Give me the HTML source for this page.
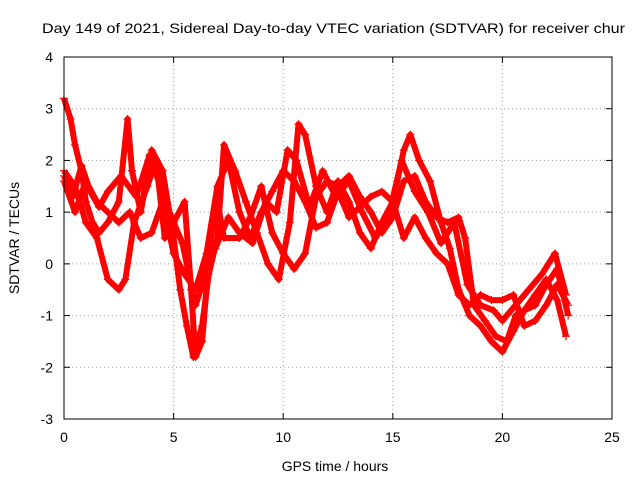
<!DOCTYPE html>
<html><head><meta charset="utf-8"><style>
html,body{margin:0;padding:0;background:#fff}
svg{display:block;font-family:"Liberation Sans",sans-serif}
</style></head><body>
<svg id="chart" width="640" height="480" viewBox="0 0 640 480">
<rect width="640" height="480" fill="#fff"/>
<text x="42" y="33" font-size="14" textLength="583" lengthAdjust="spacingAndGlyphs" fill="#000">Day 149 of 2021, Sidereal Day-to-day VTEC variation (SDTVAR) for receiver chur</text>
<g id="grid"></g>
<g id="axes"></g>
<g id="series"></g>
<rect x="64" y="57" width="548" height="362" fill="none" stroke="#000" stroke-width="1"/>
<text x="335" y="471" font-size="14" text-anchor="middle">GPS time / hours</text>
<text transform="translate(19,238) rotate(-90)" font-size="14" text-anchor="middle">SDTVAR / TECUs</text>
</svg>
<script>
const xTicks=[0,5,10,15,20,25];
const yTicks=[-3,-2,-1,0,1,2,3,4];
const timesA=[0,0.3,0.5,0.8,1,1.3,1.6,2,2.5,2.9,3.1,3.5,4,4.5,5,5.3,5.6,5.9,6.3,6.6,7,7.3,7.8,8.3,8.8,9.3,9.8,10.3,10.7,11,11.5,12,12.5,13,13.5,14,14.5,15,15.5,15.8,16.2,16.7,17.2,17.6,18,18.5,19,19.5,20,20.5,21,21.5,22,22.5,22.9];
const valuesA=[3.2,2.8,2.3,1.8,1.2,0.8,0.6,0.8,1.2,2.8,1.8,1.0,2.2,1.8,0.5,-0.5,-1.2,-1.8,-1.2,-0.2,0.5,2.3,1.8,1.2,0.6,0.0,-0.3,0.8,2.7,2.5,1.5,1.0,1.6,1.2,0.6,0.3,0.8,1.2,2.2,2.5,2.0,1.6,0.8,0.3,-0.5,-1.0,-1.2,-1.5,-1.7,-1.3,-0.9,-0.6,-0.3,-0.7,-1.4];
const timesB=[0,0.5,1,1.5,2,2.5,2.8,3.2,3.8,4.2,4.6,5,5.5,5.8,6,6.3,6.7,7,7.3,8,8.5,9,9.5,10,10.5,11,11.5,12,12.5,13,13.5,14,14.5,15,15.5,16,16.5,17,17.5,18,18.3,18.7,19.2,19.7,20.2,20.6,21,21.5,22,22.5,23];
const valuesB=[1.8,1.5,0.8,0.5,-0.3,-0.5,-0.3,0.8,1.5,2.0,0.5,0.8,1.2,-0.5,-1.8,-1.5,0.5,1.2,0.5,0.5,0.9,1.5,0.6,0.2,-0.1,0.2,1.3,1.6,1.5,1.7,1.3,1.0,0.6,0.9,1.6,1.7,1.2,0.9,0.8,0.9,0.5,-0.8,-1.1,-1.4,-1.5,-1.0,-0.9,-0.8,-0.4,-0.1,-1.0];
const timesC=[0,0.5,1,1.5,2,2.5,3,3.5,4,4.5,5,5.5,6,6.5,7,7.5,8,8.5,9,9.5,10,10.5,11,11.5,12,12.5,13,13.5,14,14.5,15,15.5,16,16.5,17,17.5,18,18.5,19,19.5,20,20.5,21,21.5,22,22.5,23];
const valuesC=[1.6,1.0,1.6,1.2,1.0,0.8,1.0,0.5,0.6,1.2,0.2,-0.2,-0.5,0.2,1.5,2.0,1.0,0.5,1.0,1.4,1.8,1.6,1.2,0.7,0.8,1.4,0.9,1.1,1.3,1.4,1.2,0.5,0.9,0.5,0.2,0.0,-0.6,-0.8,-0.6,-0.7,-0.7,-0.6,-1.2,-1.1,-0.8,-0.4,-0.8];
const timesD=[0,0.4,0.8,1.2,1.6,2,2.6,3.3,3.9,4.4,4.9,5.4,6,6.4,6.9,7.5,8,8.6,9.2,9.7,10.2,10.6,11.2,11.8,12.4,13,13.6,14.2,14.8,15.4,16,16.6,17.2,17.8,18.4,19,19.6,20,20.6,21.2,21.8,22.4,22.9];
const valuesD=[1.7,1.3,1.9,1.4,1.1,1.4,1.7,1.3,2.1,1.5,0.9,0.4,-0.8,-0.3,0.3,0.9,0.6,0.4,1.2,1.0,2.2,2.0,1.1,1.8,1.3,1.6,1.0,0.5,0.9,2.0,1.4,1.0,0.4,0.8,-0.4,-0.8,-0.9,-1.1,-0.8,-0.5,-0.2,0.2,-0.6];
const NS="http://www.w3.org/2000/svg";
const X0=64,X1=612,Y0=419,Y1=57;
function sx(t){return X0+(t-0)/(25-0)*(X1-X0);}
function sy(v){return Y0-(v-(-3))/(4-(-3))*(Y0-Y1);}
function mk(tag,attrs,parent){const e=document.createElementNS(NS,tag);for(const k in attrs)e.setAttribute(k,attrs[k]);parent.appendChild(e);return e;}
const grid=document.getElementById('grid'),axes=document.getElementById('axes'),ser=document.getElementById('series');
xTicks.forEach(t=>{const x=sx(t);
 if(t>0&&t<25){const g=mk('line',{x1:x,x2:x,y1:Y1,y2:Y0,stroke:'#a0a0a0','stroke-dasharray':'1,3'},grid);
 
 }
 mk('line',{x1:x,x2:x,y1:Y0,y2:Y0-6,stroke:'#000'},axes);
 mk('line',{x1:x,x2:x,y1:Y1,y2:Y1+6,stroke:'#000'},axes);
 const l=mk('text',{x:x,y:442,'font-size':14,'text-anchor':'middle'},axes);l.textContent=t;
 
 
});
yTicks.forEach(v=>{const y=sy(v);
 if(v>-3&&v<4){const g=mk('line',{x1:X0,x2:X1,y1:y,y2:y,stroke:'#a0a0a0','stroke-dasharray':'1,3'},grid);
 
 }
 mk('line',{x1:X0,x2:X0+6,y1:y,y2:y,stroke:'#000'},axes);
 mk('line',{x1:X1,x2:X1-6,y1:y,y2:y,stroke:'#000'},axes);
 const l=mk('text',{x:53,y:y+5,'font-size':14,'text-anchor':'end'},axes);l.textContent=v;
 
 
});
[[timesA,valuesA,'a'],[timesB,valuesB,'b'],[timesC,valuesC,'c'],[timesD,valuesD,'d']].forEach(([ts,vs,n])=>{
 const pts=ts.map((t,i)=>sx(t).toFixed(1)+','+sy(vs[i]).toFixed(1)).join(' ');
 const pl=mk('polyline',{points:pts,fill:'none',stroke:'#ff0000','stroke-width':6,'stroke-linejoin':'round'},ser);
 
 
 ts.forEach((t,i)=>{const x=sx(t),y=sy(vs[i]);
  const p=mk('path',{d:`M${x-4},${y}H${x+4}M${x},${y-4}V${y+4}`,stroke:'#ff0000','stroke-width':1.2},ser);
  
  
 });
});
</script>
</body></html>
